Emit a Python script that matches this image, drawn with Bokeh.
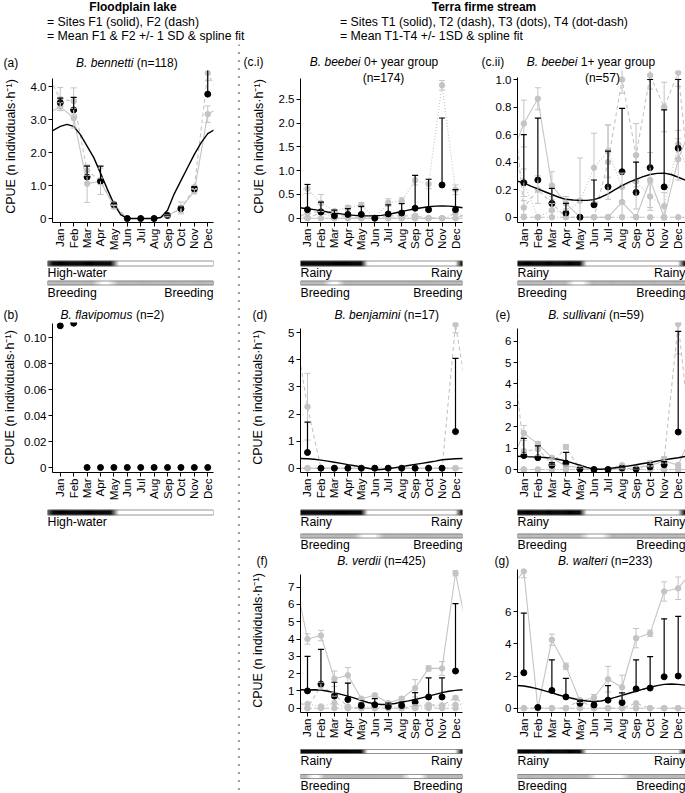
import numpy as np
from bokeh.plotting import figure
from bokeh.models import (Range1d, FixedTicker, Whisker, TeeHead, ColumnDataSource,
                          Label, Legend, LegendItem, Span, Spacer)
from bokeh.layouts import row, column
from bokeh.embed import file_html
from bokeh.resources import INLINE

FONT = "Liberation Sans"
GREY = "#c4c4c4"

MONTHS = ["Jan", "Feb", "Mar", "Apr", "May", "Jun", "Jul", "Aug", "Sep", "Oct", "Nov", "Dec"]
MONTH_X = [0, 1, 2, 3, 4, 5, 6, 7, 8, 9, 10, 11]
SPLINE_X = [-0.6, 0.0, 0.5, 1.0, 1.5, 2.0, 2.5, 3.0, 3.5, 4.0, 4.5, 5.0, 5.5, 6.0, 6.5,
            7.0, 7.5, 8.0, 8.5, 9.0, 9.5, 10.0, 10.5, 11.0, 11.6]

# ---------------- (a) B. bennetti
A_F1 = [3.40, 3.05, 1.06, 1.13, 0.36, 0.00, 0.00, 0.00, 0.08, 0.32, 0.83, 3.17]
A_F1_ERR = [0.12, 0.30, 0.57, 0.40, 0.05, 0, 0, 0, 0.03, 0.18, 0.08, 0.25]
A_F2 = [3.63, 3.57, 1.46, 1.13, 0.45, 0.00, 0.00, 0.00, 0.10, 0.28, 0.95, 4.42]
A_F2_ERR = [0.35, 0.40, 0.15, 0.10, 0.05, 0, 0, 0, 0.02, 0.10, 0.06, 0.22]
A_MEAN = [3.52, 3.30, 1.26, 1.13, 0.42, 0.0, 0.0, 0.0, 0.09, 0.30, 0.90, 3.78]
A_SD = [0.14, 0.38, 0.33, 0.46, 0.05, 0, 0, 0, 0.01, 0.05, 0.06, 0.85]
A_SPLINE = [2.66, 2.80, 2.86, 2.80, 2.55, 2.20, 1.85, 1.38, 0.90, 0.45, 0.12, 0.00, 0.00,
            0.00, 0.00, 0.00, 0.03, 0.25, 0.75, 1.15, 1.55, 1.95, 2.30, 2.58, 2.72]
A_YTICKS = [0, 1, 2, 3, 4]
A_YLABELS = ["0", "1.0", "2.0", "3.0", "4.0"]

# ---------------- (b) B. flavipomus
B_MEAN = [0.109, 0.111, 0, 0, 0, 0, 0, 0, 0, 0, 0, 0]
B_YTICKS = [0, 0.02, 0.04, 0.06, 0.08, 0.10]
B_YLABELS = ["0", "0.02", "0.04", "0.06", "0.08", "0.10"]

# ---------------- (c.i) B. beebei 0+
CI_T1 = [0.0, 0.0, 0.0, 0.0, 0.0, 0.0, 0.0, 0.0, 0.0, 0.0, 0.0, 0.0]
CI_T2 = [0.10, 0.15, 0.05, 0.05, 0.0, 0.0, 0.05, 0.05, 0.05, 0.0, 0.0, 0.0]
CI_T3 = [0.62, 0.32, 0.15, 0.22, 0.28, 0.0, 0.33, 0.36, 0.80, 0.72, 2.80, 0.60]
CI_T3_ERR = [0.10, 0.18, 0.03, 0.05, 0.05, 0, 0.08, 0.07, 0.10, 0.10, 0.10, 0.10]
CI_T4 = [0.0, 0.12, 0.0, 0.0, 0.0, 0.0, 0.0, 0.0, 0.0, 0.0, 0.0, 0.10]
CI_MEAN = [0.18, 0.13, 0.05, 0.08, 0.08, 0.0, 0.09, 0.11, 0.21, 0.18, 0.70, 0.18]
CI_SD = [0.53, 0.21, 0.12, 0.12, 0.17, 0.0, 0.19, 0.20, 0.69, 0.64, 1.41, 0.42]
CI_SPLINE = [0.22, 0.20, 0.18, 0.16, 0.13, 0.11, 0.09, 0.07, 0.06, 0.05, 0.05, 0.05, 0.06,
             0.08, 0.11, 0.14, 0.17, 0.20, 0.22, 0.24, 0.255, 0.26, 0.255, 0.24, 0.22]
CI_YTICKS = [0, 0.5, 1.0, 1.5, 2.0, 2.5]
CI_YLABELS = ["0", "0.5", "1.0", "1.5", "2.0", "2.5"]

# ---------------- (c.ii) B. beebei 1+
CII_T1 = [0.68, 0.86, 0.23, 0.10, 0.00, 0.00, 0.00, 0.11, 0.00, 0.27, 0.00, 0.42]
CII_T1_ERR = [0.17, 0.08, 0.10, 0.05, 0, 0, 0, 0.10, 0, 0.20, 0, 0.15]
CII_T2 = [0.07, 0.20, 0.10, 0.00, 0.00, 0.00, 0.40, 1.00, 0.45, 1.03, 0.80, 1.05]
CII_T2_ERR = [0.05, 0.10, 0.05, 0, 0, 0, 0.27, 0.10, 0.23, 0.10, 0.18, 0.10]
CII_T3 = [0.25, 0.00, 0.05, 0.03, 0.12, 0.36, 0.48, 0.22, 0.26, 0.15, 0.08, 0.53]
CII_T3_ERR = [0.10, 0, 0.05, 0.03, 0.31, 0.25, 0.19, 0.10, 0.20, 0.10, 0.10, 0.10]
CII_T4 = [0.0, 0.0, 0.0, 0.0, 0.0, 0.0, 0.0, 0.0, 0.0, 0.0, 0.0, 0.0]
CII_MEAN = [0.25, 0.27, 0.10, 0.03, 0.0, 0.09, 0.22, 0.33, 0.18, 0.36, 0.22, 0.50]
CII_SD = [0.35, 0.45, 0.11, 0.07, 0.0, 0.18, 0.26, 0.46, 0.22, 0.64, 0.56, 0.50]
CII_SPLINE = [0.265, 0.25, 0.225, 0.205, 0.185, 0.165, 0.145, 0.13, 0.125, 0.122, 0.122,
              0.128, 0.145, 0.17, 0.20, 0.23, 0.255, 0.275, 0.295, 0.31, 0.318, 0.32,
              0.31, 0.29, 0.265]
CII_YTICKS = [0, 0.2, 0.4, 0.6, 0.8, 1.0]
CII_YLABELS = ["0", "0.2", "0.4", "0.6", "0.8", "1.0"]

# ---------------- (d) B. benjamini
D_T1 = [0.0] * 12
D_T2 = [2.27, 0, 0, 0, 0, 0, 0, 0, 0, 0, 0, 5.30]
D_T2_ERR = [1.23, 0, 0, 0, 0, 0, 0, 0, 0, 0, 0, 0.30]
D_T3 = [0.0] * 12
D_T4 = [0.0] * 12
D_MEAN = [0.58, 0, 0, 0, 0, 0, 0, 0, 0, 0, 0, 1.35]
D_SD = [1.12, 0, 0, 0, 0, 0, 0, 0, 0, 0, 0, 2.70]
D_SPLINE = [0.36, 0.35, 0.33, 0.30, 0.26, 0.22, 0.18, 0.13, 0.09, 0.05, 0.00, -0.06, -0.05,
            -0.02, 0.02, 0.06, 0.10, 0.14, 0.18, 0.22, 0.26, 0.31, 0.33, 0.35, 0.36]
D_YTICKS = [0, 1, 2, 3, 4, 5]
D_YLABELS = ["0", "1", "2", "3", "4", "5"]

# ---------------- (e) B. sullivani
E_T1 = [1.70, 1.20, 0.55, 0.15, 0.10, 0.00, 0.00, 0.20, 0.08, 0.18, 0.40, 0.20]
E_T1_ERR = [0.35, 0.10, 0.05, 0.05, 0.05, 0, 0, 0.05, 0.05, 0.05, 0.10, 0.10]
E_T2 = [0.85, 0.95, 0.25, 1.05, 0.00, 0.00, 0.00, 0.08, 0.00, 0.30, 0.50, 6.80]
E_T2_ERR = [0.10, 0.30, 0.05, 0.12, 0, 0, 0, 0.05, 0, 0.10, 0.10, 1.40]
E_T3 = [0.0] * 12
E_T4 = [0.0] * 12
E_MEAN = [0.65, 0.55, 0.20, 0.30, 0.02, 0.0, 0.0, 0.07, 0.02, 0.12, 0.22, 1.75]
E_SD = [0.80, 0.55, 0.12, 0.50, 0.05, 0, 0, 0.08, 0.04, 0.12, 0.15, 4.70]
E_SPLINE = [0.62, 0.60, 0.59, 0.58, 0.56, 0.53, 0.47, 0.40, 0.30, 0.20, 0.10, 0.02, 0.01,
            0.04, 0.08, 0.12, 0.17, 0.22, 0.28, 0.33, 0.39, 0.45, 0.50, 0.55, 0.62]
E_YTICKS = [0, 1, 2, 3, 4, 5, 6]
E_YLABELS = ["0", "1", "2", "3", "4", "5", "6"]

# ---------------- (f) B. verdii
F_T1 = [4.00, 4.20, 1.70, 1.90, 0.55, 0.75, 0.30, 0.55, 1.15, 2.30, 2.30, 7.80]
F_T1_ERR = [0.30, 0.30, 0.45, 0.45, 0.05, 0.10, 0.05, 0.10, 0.50, 0.15, 0.40, 0.15]
F_T2 = [0.00, 1.30, 0.80, 0.10, 0.00, 0.00, 0.00, 0.00, 0.15, 0.20, 0.15, 0.60]
F_T2_ERR = [0, 0.20, 0.10, 0.05, 0, 0, 0, 0, 0.05, 0.05, 0.05, 0.10]
F_T3 = [0.25, 0.10, 0.30, 0.00, 0.05, 0.05, 0.10, 0.05, 0.10, 0.10, 0.15, 0.20]
F_T4 = [0.0] * 12
F_MEAN = [1.00, 1.40, 0.70, 0.50, 0.15, 0.20, 0.10, 0.15, 0.35, 0.65, 0.65, 2.15]
F_SD = [2.00, 2.00, 0.80, 0.95, 0.15, 0.35, 0.20, 0.20, 0.55, 1.10, 1.10, 3.90]
F_SPLINE = [1.07, 1.05, 1.07, 1.05, 0.98, 0.90, 0.80, 0.70, 0.58, 0.45, 0.33, 0.25, 0.21,
            0.22, 0.27, 0.35, 0.42, 0.50, 0.60, 0.70, 0.80, 0.90, 0.98, 1.03, 1.07]
F_YTICKS = [0, 1, 2, 3, 4, 5, 6, 7]
F_YLABELS = ["0", "1", "2", "3", "4", "5", "6", "7"]

# ---------------- (g) B. walteri
G_T1 = [8.50, 0.00, 4.25, 2.60, 0.45, 0.65, 1.80, 1.30, 4.35, 4.65, 7.25, 7.45]
G_T1_ERR = [0.40, 0, 0.35, 0.20, 0.10, 0.20, 0.80, 0.75, 0.60, 0.20, 0.60, 0.70]
G_T2 = [0.0, 0.0, 0.0, 0.0, 0.50, 0.0, 0.0, 0.0, 0.30, 0.0, 0.0, 0.0]
G_T3 = [0.0] * 12
G_T4 = [0.0] * 12
G_MEAN = [2.20, 0.05, 1.10, 0.70, 0.30, 0.20, 0.50, 0.35, 1.20, 1.25, 1.95, 2.00]
G_SD = [3.70, 0.05, 1.90, 1.15, 0.20, 0.20, 0.90, 0.60, 1.80, 1.95, 3.60, 3.70]
G_SPLINE = [1.42, 1.38, 1.30, 1.20, 1.08, 0.95, 0.82, 0.70, 0.60, 0.50, 0.45, 0.42, 0.45,
            0.55, 0.67, 0.80, 0.93, 1.05, 1.18, 1.30, 1.40, 1.48, 1.50, 1.48, 1.42]
G_YTICKS = [0, 2, 4, 6]
G_YLABELS = ["0", "2", "4", "6"]

# ---------------- season bars (month-index stops, grey level)
HIGHWATER_X = [-0.7, -0.15, 4.0, 4.6, 11.7]
HIGHWATER_G = [140, 0, 0, 255, 255]
RAINY_X = [-0.7, 4.0, 4.5, 11.0, 11.5, 11.7]
RAINY_G = [0, 0, 255, 255, 0, 0]
BREED_G = [185, 185, 255, 255, 185, 185]
BREED_A_X = [-0.7, 2.7, 3.4, 3.8, 4.6, 11.7]
BREED_CI_X = [-0.7, 1.2, 1.8, 2.2, 2.8, 11.7]
BREED_CII_X = [-0.7, 3.0, 3.6, 4.2, 4.9, 11.7]
BREED_D_X = [-0.7, 3.5, 4.2, 5.0, 5.7, 11.7]
BREED_E_X = [-0.7, 4.0, 4.7, 5.6, 6.3, 11.7]
BREED_F_X = [-0.7, -0.1, 0.4, 0.8, 1.3, 7.0, 7.6, 8.4, 9.0, 11.7]
BREED_F_G = [185, 185, 255, 255, 185, 185, 255, 255, 185, 185]
BREED_G_X = [-0.7, 4.5, 5.2, 6.9, 7.6, 11.7]

SOLID, DASH, DOTS, DOTDASH = "solid", "4 3", "1 2", "5 2 1 2"
YLABEL = "CPUE (n individuals\u00b7h\u207b\u00b9)"

# ---------------- geometry (pixels, page has no margin)
PAGE_W, PAGE_H = 685, 793
HEADER_H = 44
COLS = {
    "L": dict(width=236, bl=47, br=23, xr=(-0.58, 11.43)),
    "M": dict(width=222, bl=59, br=1, xr=(-0.52, 11.52)),
    "R": dict(width=222, bl=54, br=0, xr=(-0.45, 11.52)),
}
SEP_W = 5
ROWS = {
    1: dict(strip=26, ft=70, fb=222, bars=44, bar=((34.5, 39.5), 28, (15.5, 19.5), 7.5)),
    2: dict(strip=22, ft=322, fb=472, bars=46, bar=((37.5, 42.5), 30.5, (14.5, 18.5), 7.5)),
    3: dict(strip=16, ft=568, fb=712, bars=47, bar=((40, 44), 33, (15, 19), 8)),
}
BOTTOM_BORDER = 34
SPACE_PX = 3.4
TITLE_SIZE = "12px"
BAR_TEXT_SIZE = "12.3px"
LEGEND_ROWS_Y = (21.5, 35.5)
LEGEND_HALF_H = 7.25


def style_axis(ax):
    ax.axis_line_color = "black"
    ax.axis_line_width = 1
    ax.major_tick_line_color = "black"
    ax.major_tick_in = 0
    ax.major_tick_out = 4
    ax.minor_tick_line_color = None
    ax.major_label_standoff = 2
    ax.major_label_text_font = FONT
    ax.major_label_text_font_size = "11.5px"
    ax.major_label_text_color = "black"
    ax.axis_label_text_font = FONT
    ax.axis_label_text_font_size = "12.5px"
    ax.axis_label_text_font_style = "normal"
    ax.axis_label_text_color = "black"


def add_text(p, text, x, y, xu="data", yu="data", align="left", style="normal",
             size=TITLE_SIZE):
    p.add_layout(Label(x=x, y=y, x_units=xu, y_units=yu, text=text, text_align=align,
                       text_baseline="middle", text_font=FONT, text_font_size=size,
                       text_font_style=style, text_color="black"))


def blank_fig(width, height, xr, yr):
    f = figure(width=width, height=height, x_range=xr, y_range=yr, output_backend="svg",
               toolbar_location=None, x_axis_type=None, y_axis_type=None,
               min_border_left=0, min_border_right=0, min_border_top=0, min_border_bottom=0,
               frame_align=False)
    f.outline_line_color = None
    return f


def idx_to_px(col, idx):
    c = COLS[col]
    x0, x1 = c["xr"]
    ppx = (c["width"] - c["bl"] - c["br"]) / (x1 - x0)
    return c["bl"] + (idx - x0) * ppx


def make_strip(col, rw, label, label_x, ital, rest, split, ty):
    c, r = COLS[col], ROWS[rw]
    s = blank_fig(c["width"], r["strip"], Range1d(0, c["width"]), Range1d(0, r["strip"]))
    add_text(s, label, label_x, ty)
    sx = idx_to_px(col, split)
    add_text(s, ital, sx, ty, align="right", style="italic")
    add_text(s, rest, sx + SPACE_PX, ty, align="left")
    return s


def make_panel(col, rw, spec):
    c, r = COLS[col], ROWS[rw]
    zero = spec["zero"]
    ppu = spec["ppu"]
    y0 = (zero - r["fb"]) / ppu
    y1 = (zero - r["ft"]) / ppu
    fh = r["fb"] - r["ft"]
    xr = Range1d(*c["xr"])
    p = figure(width=c["width"], height=fh + BOTTOM_BORDER, x_range=xr,
               y_range=Range1d(y0, y1), output_backend="svg", toolbar_location=None,
               min_border_left=c["bl"], min_border_right=c["br"],
               min_border_top=0, min_border_bottom=BOTTOM_BORDER, frame_align=False)
    p.outline_line_color = None
    p.xgrid.visible = False
    p.ygrid.visible = False
    p.xaxis.ticker = FixedTicker(ticks=MONTH_X)
    p.xaxis.major_label_overrides = dict(zip(MONTH_X, MONTHS))
    p.xaxis.major_label_orientation = np.pi / 2
    p.yaxis.ticker = FixedTicker(ticks=spec["yticks"])
    p.yaxis.major_label_overrides = dict(zip(spec["yticks"], spec["ylabels"]))
    p.yaxis.bounds = (y0, spec["axis_top"])
    style_axis(p.xaxis[0])
    style_axis(p.yaxis[0])
    if spec.get("ylab_standoff") is not None:
        p.yaxis.axis_label = YLABEL
        p.yaxis.axis_label_standoff = spec["ylab_standoff"]

    mx = np.array(MONTH_X, dtype=float)
    sites = spec.get("sites", [])
    for vals, errs, dash in sites:
        if errs is None:
            continue
        v, e = np.array(vals, float), np.array(errs, float)
        m = e > 0
        src = ColumnDataSource(dict(x=mx[m], lo=(v - e)[m], hi=(v + e)[m]))
        p.add_layout(Whisker(source=src, base="x", lower="lo", upper="hi", level="glyph",
                             line_color=GREY, line_width=1,
                             upper_head=TeeHead(size=6, line_color=GREY, line_width=1),
                             lower_head=TeeHead(size=6, line_color=GREY, line_width=1)))
    for vals, errs, dash in sites:
        xs = [-1] + MONTH_X + [12]
        ys = [vals[-1]] + list(vals) + [vals[0]]
        p.line(xs, ys, line_color=GREY, line_width=1.1, line_dash=dash)
    for vals, errs, dash in sites:
        p.scatter(MONTH_X, vals, size=5.5, color=GREY)
    if spec.get("sd") is not None:
        mn, sd = np.array(spec["mean"], float), np.array(spec["sd"], float)
        m = sd > 0
        src = ColumnDataSource(dict(x=mx[m], lo=mn[m], hi=(mn + sd)[m]))
        p.add_layout(Whisker(source=src, base="x", lower="lo", upper="hi", level="glyph",
                             line_color="black", line_width=1.2, lower_head=None,
                             upper_head=TeeHead(size=6, line_color="black", line_width=1.2)))
    if spec.get("spline") is not None:
        p.line(SPLINE_X, spec["spline"], line_color="black", line_width=1.4)
    p.scatter(MONTH_X, spec["mean"], size=6, color="black")
    if spec.get("line2") is not None:
        txt, page_y, xi = spec["line2"]
        add_text(p, txt, xi, r["fb"] - page_y, xu="data", yu="screen", align="center")
    return p, xr


def make_bars(col, rw, xr, bars):
    c, r = COLS[col], ROWS[rw]
    height = r["bars"]
    p = figure(width=c["width"], height=height, x_range=xr, y_range=Range1d(0, height),
               output_backend="svg", toolbar_location=None, x_axis_type=None,
               y_axis_type=None, min_border_left=c["bl"], min_border_right=c["br"],
               min_border_top=0, min_border_bottom=0, frame_align=False)
    p.outline_line_color = None
    edges = np.linspace(xr.start, xr.end, 161)
    centers = (edges[:-1] + edges[1:]) / 2
    for (sx, sg, yb, yt, t_left, t_right, ty) in bars:
        g = np.interp(centers, sx, sg).round().astype(int)
        cols = ["#%02x%02x%02x" % (v, v, v) for v in g]
        p.quad(left=edges[:-1], right=edges[1:], bottom=yb, top=yt, fill_color=cols,
               line_color=cols, line_width=0.6)
        p.quad(left=[xr.start], right=[xr.end], bottom=[yb], top=[yt], fill_color=None,
               line_color="#7a7a7a", line_width=0.8)
        add_text(p, t_left, xr.start, ty, align="left", size=BAR_TEXT_SIZE)
        if t_right:
            add_text(p, t_right, xr.end, ty, align="right", size=BAR_TEXT_SIZE)
    return p


# ---------------- panel specs
SPEC_A = dict(zero=218, ppu=32.9, axis_top=4.26, yticks=A_YTICKS, ylabels=A_YLABELS,
              sites=[(A_F1, A_F1_ERR, SOLID), (A_F2, A_F2_ERR, DASH)],
              mean=A_MEAN, sd=A_SD, spline=A_SPLINE, ylab_standoff=10)
SPEC_B = dict(zero=467, ppu=1300, axis_top=0.1108, yticks=B_YTICKS, ylabels=B_YLABELS,
              sites=[], mean=B_MEAN, sd=None, spline=None, ylab_standoff=4)
SPEC_CI = dict(zero=217.7, ppu=47.5, axis_top=2.94, yticks=CI_YTICKS, ylabels=CI_YLABELS,
               sites=[(CI_T1, None, SOLID), (CI_T2, None, DASH), (CI_T3, CI_T3_ERR, DOTS),
                      (CI_T4, None, DOTDASH)],
               mean=CI_MEAN, sd=CI_SD, spline=CI_SPLINE, ylab_standoff=10,
               line2=("(n=174)", 77, 5.65))
SPEC_CII = dict(zero=216.7, ppu=137.7, axis_top=1.014, yticks=CII_YTICKS, ylabels=CII_YLABELS,
                sites=[(CII_T1, CII_T1_ERR, SOLID), (CII_T2, CII_T2_ERR, DASH),
                       (CII_T3, CII_T3_ERR, DOTS), (CII_T4, None, DOTDASH)],
                mean=CII_MEAN, sd=CII_SD, spline=CII_SPLINE,
                line2=("(n=57)", 77, 5.6))
SPEC_D = dict(zero=467.7, ppu=27.1, axis_top=5.15, yticks=D_YTICKS, ylabels=D_YLABELS,
              sites=[(D_T1, None, SOLID), (D_T2, D_T2_ERR, DASH), (D_T3, None, DOTS),
                     (D_T4, None, DOTDASH)],
              mean=D_MEAN, sd=D_SD, spline=D_SPLINE, ylab_standoff=20)
SPEC_E = dict(zero=469, ppu=21.4, axis_top=6.59, yticks=E_YTICKS, ylabels=E_YLABELS,
              sites=[(E_T1, E_T1_ERR, SOLID), (E_T2, E_T2_ERR, DASH), (E_T3, None, DOTS),
                     (E_T4, None, DOTDASH)],
              mean=E_MEAN, sd=E_SD, spline=E_SPLINE)
SPEC_F = dict(zero=707.7, ppu=17.3, axis_top=7.71, yticks=F_YTICKS, ylabels=F_YLABELS,
              sites=[(F_T1, F_T1_ERR, SOLID), (F_T2, F_T2_ERR, DASH), (F_T3, None, DOTS),
                     (F_T4, None, DOTDASH)],
              mean=F_MEAN, sd=F_SD, spline=F_SPLINE, ylab_standoff=20)
SPEC_G = dict(zero=707.7, ppu=16.1, axis_top=8.64, yticks=G_YTICKS, ylabels=G_YLABELS,
              sites=[(G_T1, G_T1_ERR, SOLID), (G_T2, None, DASH), (G_T3, None, DOTS),
                     (G_T4, None, DOTDASH)],
              mean=G_MEAN, sd=G_SD, spline=G_SPLINE)

pa, xa = make_panel("L", 1, SPEC_A)
pb, xb = make_panel("L", 2, SPEC_B)
pci, xci = make_panel("M", 1, SPEC_CI)
pd, xd = make_panel("M", 2, SPEC_D)
pf, xf = make_panel("M", 3, SPEC_F)
pcii, xcii = make_panel("R", 1, SPEC_CII)
pe, xe = make_panel("R", 2, SPEC_E)
pg, xg = make_panel("R", 3, SPEC_G)

sa = make_strip("L", 1, "(a)", 3, "B. bennetti", "(n=118)", 5.64, 7.5)
sb = make_strip("L", 2, "(b)", 3, "B. flavipomus", "(n=2)", 5.57, 7.5)
sci = make_strip("M", 1, "(c.i)", 2, "B. beebei", "0+ year group", 3.94, 9)
sd_ = make_strip("M", 2, "(d)", 11, "B. benjamini", "(n=17)", 6.91, 7.5)
sf = make_strip("M", 3, "(f)", 15, "B. verdii", "(n=425)", 5.43, 8)
scii = make_strip("R", 1, "(c.ii)", 18, "B. beebei", "1+ year group", 3.82, 9)
se = make_strip("R", 2, "(e)", 32, "B. sullivani", "(n=59)", 5.82, 7.5)
sg = make_strip("R", 3, "(g)", 31, "B. walteri", "(n=233)", 5.96, 8)


def bars_spec(row_no, first, breed_x, breed_g=BREED_G):
    b1, t1, b2, t2 = ROWS[row_no]["bar"]
    out = []
    if first == "hw":
        out.append((HIGHWATER_X, HIGHWATER_G, b1[0], b1[1], "High-water", None, t1))
    else:
        out.append((RAINY_X, RAINY_G, b1[0], b1[1], "Rainy", "Rainy", t1))
    if breed_x is not None:
        out.append((breed_x, breed_g, b2[0], b2[1], "Breeding", "Breeding", t2))
    return out


ba = make_bars("L", 1, xa, bars_spec(1, "hw", BREED_A_X))
bb = make_bars("L", 2, xb, bars_spec(2, "hw", None))
bci = make_bars("M", 1, xci, bars_spec(1, "rain", BREED_CI_X))
bd = make_bars("M", 2, xd, bars_spec(2, "rain", BREED_D_X))
bf = make_bars("M", 3, xf, bars_spec(3, "rain", BREED_F_X, BREED_F_G))
bcii = make_bars("R", 1, xcii, bars_spec(1, "rain", BREED_CII_X))
be = make_bars("R", 2, xe, bars_spec(2, "rain", BREED_E_X))
bg = make_bars("R", 3, xg, bars_spec(3, "rain", BREED_G_X))


def make_header(width, title, title_x, legend_x, labels):
    h = blank_fig(width, HEADER_H, Range1d(0, width), Range1d(0, HEADER_H))
    h.add_layout(Label(x=title_x, y=HEADER_H - 6.5, text=title, text_align="center",
                       text_baseline="middle", text_font=FONT, text_font_size="12px",
                       text_font_style="bold", text_color="black"))
    gl = h.line(x=[], y=[], line_color=GREY, line_width=1.2)
    gs = h.scatter(x=[], y=[], size=5, color=GREY)
    kl = h.line(x=[], y=[], line_color="black", line_width=1.2)
    ks = h.scatter(x=[], y=[], size=5, color="black")
    for lab, rends, row_y in ((labels[0], [gl, gs], LEGEND_ROWS_Y[0]),
                              (labels[1], [kl, ks], LEGEND_ROWS_Y[1])):
        leg = Legend(items=[LegendItem(label=lab, renderers=rends)],
                     location=(legend_x, HEADER_H - row_y - LEGEND_HALF_H),
                     orientation="vertical", glyph_width=18, glyph_height=11,
                     label_height=11, label_standoff=2, spacing=0, padding=0, margin=0,
                     border_line_color=None, background_fill_alpha=0,
                     label_text_font=FONT, label_text_font_size="12.3px",
                     label_text_color="black")
        h.add_layout(leg)
    return h


hl = make_header(260, "Floodplain lake", 132.5, 27,
                 ["= Sites F1 (solid), F2 (dash)",
                  "= Mean F1 & F2 +/- 1 SD & spline fit"])
hr = make_header(PAGE_W - 260, "Terra firme stream", 223.5, 60,
                 ["= Sites T1 (solid), T2 (dash), T3 (dots), T4 (dot-dash)",
                  "= Mean T1-T4 +/- 1SD & spline fit"])

BODY_H = PAGE_H - HEADER_H
sep = blank_fig(SEP_W, BODY_H, Range1d(0, 1), Range1d(0, 1))
sep.add_layout(Span(location=0.5, dimension="height", line_color="black", line_width=1.5,
                    line_dash="1 7"))

left_used = sum(f.height for f in (sa, pa, ba, sb, pb, bb))
left_col = column(sa, pa, ba, sb, pb, bb,
                  Spacer(width=COLS["L"]["width"], height=BODY_H - left_used), spacing=0)
mid_col = column(sci, pci, bci, sd_, pd, bd, sf, pf, bf, spacing=0)
right_col = column(scii, pcii, bcii, se, pe, be, sg, pg, bg, spacing=0)
body = row(left_col, sep, mid_col, right_col, spacing=0)
header = row(hl, hr, spacing=0)
layout = column(header, body, spacing=0)

open("out.html", "w").write(file_html(layout, INLINE))
